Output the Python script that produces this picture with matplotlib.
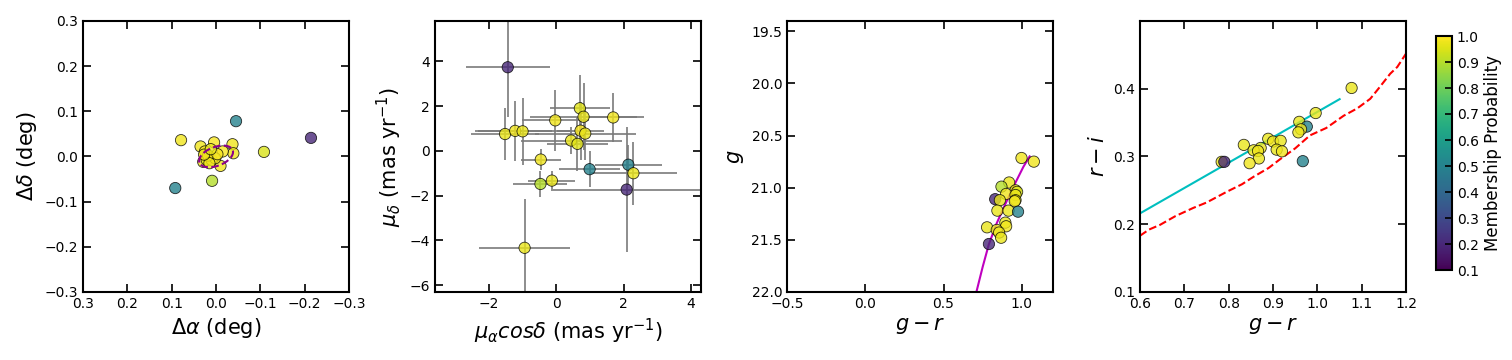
import numpy as np
import matplotlib
matplotlib.use('Agg')
import matplotlib.pyplot as plt
from matplotlib.colors import Normalize

# panel 1: positions relative to centre (deg)
ra_off = [0.079, -0.045, -0.214, -0.108, 0.092, 0.009, 0.035, 0.0045, -0.037, -0.039,
          -0.015, -0.010, 0.025, 0.029, 0.021, 0.010, 0.002, 0.018, 0.015, -0.003, 0.027, 0.012]
dec_off = [0.036, 0.078, 0.041, 0.010, -0.070, -0.054, 0.022, 0.031, 0.027, 0.007,
           0.011, -0.021, 0.011, -0.012, -0.008, -0.008, -0.004, 0.002, -0.015, 0.005, 0.004, 0.016]
prob_pos = [0.98, 0.50, 0.20, 0.95, 0.50, 0.90, 0.98, 0.99, 0.98, 0.98,
            0.99, 0.98, 0.99, 0.98, 0.97, 0.99, 0.98, 0.99, 0.98, 0.99, 0.98, 0.97]
# half-light ellipse (deg, deg, deg)
ell_a, ell_b, ell_pa = 0.040, 0.021, -20.0

# panel 2: proper motions
pmra = [-1.44, -1.52, -1.22, -1.00, -0.03, 0.70, 0.81, 1.69, 0.72, 0.86,
        0.44, 0.63, -0.46, 0.99, 2.14, 2.29, 2.09, -0.47, -0.13, -0.94]
pmdec = [3.73, 0.75, 0.89, 0.87, 1.36, 1.90, 1.52, 1.49, 0.90, 0.77,
         0.46, 0.31, -0.39, -0.82, -0.62, -1.00, -1.73, -1.48, -1.33, -4.33]
pmra_err = [1.25, 1.00, 1.10, 1.40, 1.00, 0.90, 1.60, 0.90, 0.70, 1.50,
            1.50, 0.90, 0.60, 0.90, 1.00, 1.30, 2.20, 0.80, 0.70, 1.35]
pmdec_err = [2.20, 1.15, 1.35, 1.50, 1.35, 1.50, 1.50, 1.10, 1.30, 1.20,
             0.60, 1.20, 0.45, 0.80, 0.90, 1.40, 2.80, 0.60, 0.45, 2.20]
prob_pm = [0.20, 0.97, 0.98, 0.97, 0.98, 0.96, 0.97, 0.98, 0.99, 0.97,
           0.97, 0.96, 0.98, 0.50, 0.50, 0.97, 0.20, 0.90, 0.97, 0.97]

# panel 3: colour-magnitude diagram
gr = [0.998, 1.077, 0.919, 0.870, 0.960, 0.970, 0.900, 0.960, 0.830, 0.860, 0.960,
      0.955, 0.844, 0.915, 0.976, 0.895, 0.900, 0.778, 0.840, 0.855, 0.868, 0.790]
gmag = [20.715, 20.75, 20.95, 20.99, 21.025, 21.04, 21.06, 21.07, 21.11, 21.12, 21.12,
        21.13, 21.22, 21.22, 21.23, 21.335, 21.37, 21.38, 21.405, 21.43, 21.48, 21.54]
prob_cmd = [0.98, 0.98, 0.97, 0.90, 0.97, 0.95, 0.98, 0.97, 0.20, 0.97, 0.97,
            0.98, 0.97, 0.97, 0.50, 0.97, 0.98, 0.97, 0.97, 0.98, 0.97, 0.20]
iso_gr = [0.71, 0.75, 0.79, 0.84, 0.90, 0.96, 1.01, 1.05]
iso_g = [22.00, 21.76, 21.54, 21.34, 21.14, 20.95, 20.80, 20.70]

# panel 4: colour-colour diagram
gr2 = [1.077, 0.996, 0.959, 0.976, 0.963, 0.957, 0.889, 0.900, 0.917, 0.834, 0.872,
       0.856, 0.866, 0.908, 0.920, 0.868, 0.847, 0.784, 0.790, 0.967]
ri = [0.401, 0.364, 0.351, 0.344, 0.340, 0.3355, 0.326, 0.322, 0.323, 0.317, 0.3125,
      0.309, 0.308, 0.310, 0.3075, 0.297, 0.290, 0.292, 0.292, 0.293]
prob_cc = [0.97, 0.97, 0.97, 0.50, 0.98, 0.97, 0.97, 0.98, 0.97, 0.97, 0.97,
           0.97, 0.98, 0.97, 0.98, 0.97, 0.98, 0.97, 0.20, 0.50]
fit_gr = [0.60, 1.05]
fit_ri = [0.216, 0.3845]
loc_gr = [0.60, 0.62, 0.645, 0.68, 0.72, 0.75, 0.796, 0.83, 0.856, 0.89, 0.916,
          0.95, 0.983, 1.02, 1.059, 1.09, 1.119, 1.14, 1.164, 1.18, 1.20]
loc_ri = [0.183, 0.192, 0.199, 0.212, 0.224, 0.232, 0.248, 0.259, 0.270, 0.283, 0.296,
          0.312, 0.331, 0.342, 0.360, 0.371, 0.385, 0.402, 0.422, 0.432, 0.452]

plt.rcParams['axes.unicode_minus'] = True

norm = Normalize(vmin=0.1, vmax=1.0)
cmap = plt.get_cmap('viridis')
sc_kw = dict(cmap=cmap, norm=norm, s=66, alpha=0.8, edgecolors='k', linewidths=0.6, zorder=3)

fig = plt.figure(figsize=(15.12, 3.6), dpi=100)
bottom, height = 0.189, 0.753
width = 0.176
ax1 = fig.add_axes([0.0549, bottom, width, height])
ax2 = fig.add_axes([0.2877, bottom, width, height])
ax3 = fig.add_axes([0.5205, bottom, width, height])
ax4 = fig.add_axes([0.7540, bottom, width, height])
cax = fig.add_axes([0.9497, 0.25, 0.0106, 0.65])

def style(ax):
    ax.tick_params(direction='in', top=True, right=True, length=6, width=1.2, labelsize=10)
    for s in ax.spines.values():
        s.set_linewidth(1.5)

# panel 1
ax1.scatter(ra_off, dec_off, c=prob_pos, **sc_kw)
t = np.linspace(0, 2 * np.pi, 200)
pa = np.radians(ell_pa)
ex = ell_a * np.cos(t) * np.cos(pa) - ell_b * np.sin(t) * np.sin(pa)
ey = ell_a * np.cos(t) * np.sin(pa) + ell_b * np.sin(t) * np.cos(pa)
ax1.plot(ex, ey, ls='--', color='darkmagenta', lw=1.5, zorder=4)
ax1.set_xlim(0.3, -0.3)
ax1.set_ylim(-0.3, 0.3)
ax1.set_xticks(np.arange(-0.3, 0.31, 0.1))
ax1.set_yticks(np.arange(-0.3, 0.31, 0.1))
ax1.set_xlabel(r'$\Delta\alpha$ (deg)', fontsize=15)
ax1.set_ylabel(r'$\Delta\delta$ (deg)', fontsize=15)
style(ax1)

# panel 2
ax2.errorbar(pmra, pmdec, xerr=pmra_err, yerr=pmdec_err, fmt='none', ecolor='#7a7a7a', elinewidth=1.2, zorder=2)
ax2.scatter(pmra, pmdec, c=prob_pm, **sc_kw)
ax2.set_xlim(-3.6, 4.3)
ax2.set_ylim(-6.3, 5.8)
ax2.set_xticks([-2, 0, 2, 4])
ax2.set_yticks([-6, -4, -2, 0, 2, 4])
ax2.set_xlabel(r'$\mu_{\alpha}cos\delta$ (mas yr$^{-1}$)', fontsize=15)
ax2.set_ylabel(r'$\mu_{\delta}$ (mas yr$^{-1}$)', fontsize=15)
style(ax2)

# panel 3
ax3.plot(iso_gr, iso_g, color='m', lw=1.5, zorder=2)
ax3.scatter(gr, gmag, c=prob_cmd, **sc_kw)
ax3.set_xlim(-0.5, 1.2)
ax3.set_ylim(22.0, 19.4)
ax3.set_xticks([-0.5, 0.0, 0.5, 1.0])
ax3.set_yticks([19.5, 20.0, 20.5, 21.0, 21.5, 22.0])
ax3.set_xlabel(r'$g-r$', fontsize=15)
ax3.set_ylabel(r'$g$', fontsize=15)
style(ax3)

# panel 4
ax4.plot(fit_gr, fit_ri, color='c', lw=1.5, zorder=2)
ax4.plot(loc_gr, loc_ri, color='r', ls='--', lw=1.5, zorder=2)
ax4.scatter(gr2, ri, c=prob_cc, **sc_kw)
ax4.set_xlim(0.6, 1.2)
ax4.set_ylim(0.1, 0.5)
ax4.set_xticks(np.arange(0.6, 1.21, 0.1))
ax4.set_yticks([0.1, 0.2, 0.3, 0.4])
ax4.set_xlabel(r'$g-r$', fontsize=15)
ax4.set_ylabel(r'$r-i$', fontsize=15)
style(ax4)

cb = fig.colorbar(plt.cm.ScalarMappable(norm=norm, cmap=cmap), cax=cax)
cb.set_ticks(np.arange(0.1, 1.01, 0.1))
cb.ax.tick_params(direction='in', length=5, width=1.2, labelsize=10)
cb.outline.set_linewidth(1.5)
cb.set_label('Membership Probability', fontsize=12)

fig.savefig('out.png', dpi=100)
